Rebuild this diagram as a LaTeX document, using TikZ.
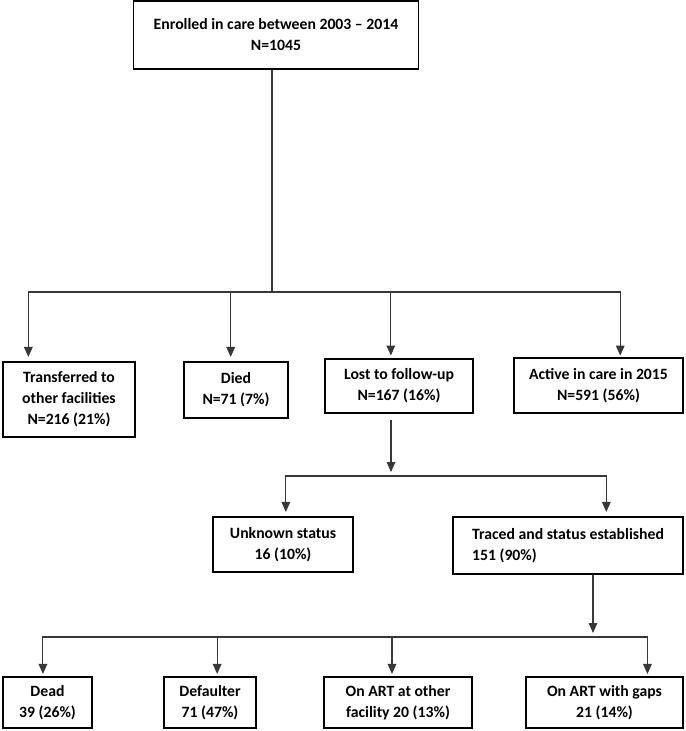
\documentclass[tikz,border=0pt]{standalone}
\usepackage{fontspec}
\setmainfont{Carlito}
\usepackage{tikz}
\usetikzlibrary{arrows.meta,calc,positioning}

\begin{document}
\begin{tikzpicture}[x=0.75pt,y=-0.75pt,
	box/.style={draw, line width=1.6pt, align=center, inner sep=2pt,
		font=\fontsize{11.8}{15.75}\selectfont\bfseries},
	conn/.style={draw=black!78, line width=0.8pt},
	arr/.style={conn, -{Triangle[width=6.5pt,length=7.5pt]}}]
			\useasboundingbox (0,0) rectangle (685,731);
			% boxes
			\node[box, line width=1.2pt, minimum width=213.75pt, minimum height=51pt] (enrolled) at (276,35) {Enrolled in care between 2003 -- 2014\\N=1045};
			\node[box, minimum width=99pt, minimum height=56.25pt] (transferred) at (69,399.5) {Transferred to\\other facilities\\N=216 (21\%)};
			\node[box, minimum width=78pt, minimum height=42pt] (died) at (236,390) {Died\\N=71 (7\%)};
			\node[box, line width=2.2pt, minimum width=111pt, minimum height=40.5pt] (lost) at (399,386) {Lost to follow-up\\N=167 (16\%)};
			\node[box, minimum width=126.75pt, minimum height=41.25pt] (active) at (598.5,385.5) {Active in care in 2015\\N=591 (56\%)};
			\node[box, minimum width=105pt, minimum height=41.25pt] (unknown) at (283,544.5) {Unknown status\\16 (10\%)};
			\node[box, align=left, minimum width=172.5pt, minimum height=42.75pt] (traced) at (568,545.5) {Traced and status established\\151 (90\%)};
			\node[box, minimum width=66.75pt, minimum height=38.25pt] (dead) at (47.5,702.5) {Dead\\39 (26\%)};
			\node[box, minimum width=69pt, minimum height=38.25pt] (defaulter) at (210,702.5) {Defaulter\\71 (47\%)};
			\node[box, minimum width=111pt, minimum height=38.25pt] (artother) at (398,702.5) {On ART at other\\facility 20 (13\%)};
			\node[box, minimum width=117.75pt, minimum height=38.25pt] (artgaps) at (604.5,702.5) {On ART with gaps\\21 (14\%)};
			% branch points
			\coordinate (split1) at (272,292);
			\coordinate (split2) at (391,476);
			\coordinate (split3) at (593,637);
			% first level
			\draw[conn] (split1 |- enrolled.south) -- (split1);
			\draw[arr, shorten >=3pt] (split1) -| ($(transferred.north west)!0.197!(transferred.north east)$);
			\draw[arr, shorten >=3pt] (split1) -| ($(died.north west)!0.45!(died.north east)$);
			\draw[arr, shorten >=1.5pt] (split1) -| ($(lost.north west)!0.446!(lost.north east)$);
			\draw[arr, shorten >=1pt] (split1) -| ($(active.north west)!0.627!(active.north east)$);
			% lost to follow-up
			\draw[arr, shorten <=4.5pt, shorten >=3pt] (split2 |- lost.south) -- (split2);
			\draw[arr, shorten >=3pt] (split2) -| ($(unknown.north west)!0.52!(unknown.north east)$);
			\draw[arr, shorten >=3pt] (split2) -| ($(traced.north west)!0.665!(traced.north east)$);
			% traced
			\draw[arr, shorten >=3pt] (split3 |- traced.south) -- (split3);
			\draw[arr, shorten >=1.5pt] (split3) -| ($(dead.north west)!0.45!(dead.north east)$);
			\draw[arr, shorten >=1.5pt] (split3) -| ($(defaulter.north west)!0.576!(defaulter.north east)$);
			\draw[arr, shorten >=1.5pt] (split3) -| ($(artother.north west)!0.46!(artother.north east)$);
			\draw[arr, shorten >=1.5pt] (split3) -| ($(artgaps.north west)!0.77!(artgaps.north east)$);
		\end{tikzpicture}
\end{document}
